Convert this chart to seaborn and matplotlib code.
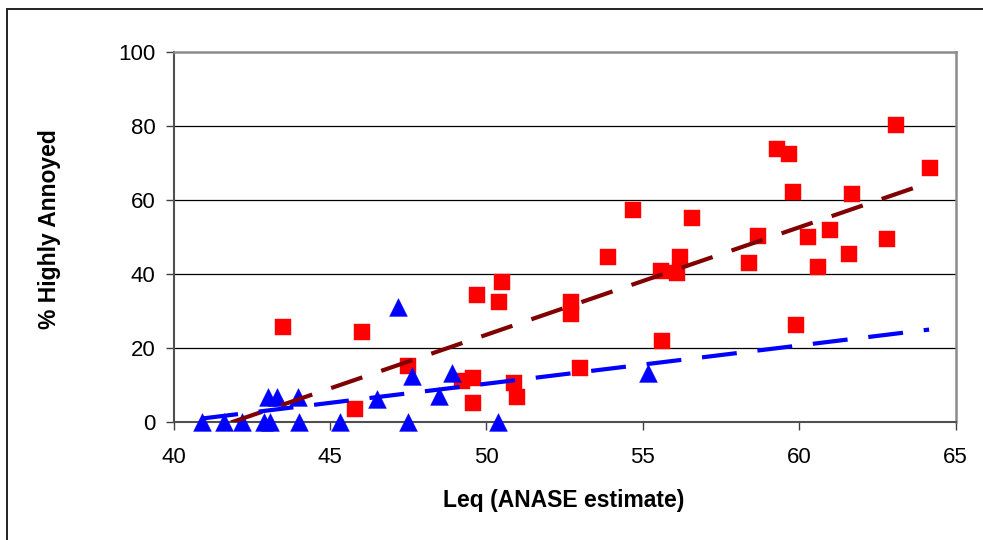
import matplotlib
matplotlib.use("Agg")
import matplotlib.pyplot as plt
import seaborn as sns
import pandas as pd
from matplotlib.patches import Rectangle

# ---- data ----
red_x = [45.81, 43.51, 46.01, 47.48, 49.21, 49.58, 49.58, 49.69, 50.39, 50.49,
         50.89, 50.99, 52.70, 52.70, 52.99, 53.90, 54.69, 55.60, 55.58, 56.09,
         56.19, 56.58, 58.38, 58.69, 59.29, 59.68, 59.79, 59.89, 60.29, 60.59,
         60.99, 61.59, 61.69, 62.79, 63.08, 64.18]
red_y = [3.4, 25.7, 24.3, 15.1, 11.1, 11.8, 5.0, 34.2, 32.4, 37.8,
         10.4, 6.7, 32.4, 29.1, 14.6, 44.4, 57.2, 21.9, 40.8, 40.2,
         44.4, 55.1, 42.8, 50.2, 73.6, 72.3, 62.2, 26.1, 50.0, 41.7,
         51.9, 45.2, 61.5, 49.3, 80.2, 68.5]

blue_x = [40.90, 41.60, 42.20, 42.90, 43.10, 44.02, 45.32, 47.48, 50.38,
          43.03, 43.30, 43.99, 47.18, 46.49, 47.61, 48.49, 48.89, 55.17]
blue_y = [0, 0, 0, 0, 0, 0, 0, 0, 0,
          6.6, 6.6, 6.6, 31.1, 6.1, 12.4, 6.9, 13.2, 13.1]

red_trend_x = [41.84, 64.15]
red_trend_y = [-0.2, 64.6]
blue_trend_x = [40.95, 64.15]
blue_trend_y = [0.9, 24.9]

x_ticks = [40, 45, 50, 55, 60, 65]
y_ticks = [0, 20, 40, 60, 80, 100]
x_label = "Leq (ANASE estimate)"
y_label = "% Highly Annoyed"

# ---- figure ----
sns.set_theme(style="white")
plt.rcParams['font.family'] = ['Liberation Sans', 'DejaVu Sans']
plt.rcParams['text.color'] = 'black'
plt.rcParams['axes.labelcolor'] = 'black'
plt.rcParams['xtick.color'] = 'black'
plt.rcParams['ytick.color'] = 'black'

W, H = 983, 540
fig = plt.figure(figsize=(W / 100, H / 100), dpi=100)
ax_l, ax_r, ax_t, ax_b = 173.5, 955.7, 51.7, 421.7
ax = fig.add_axes([ax_l / W, 1 - ax_b / H, (ax_r - ax_l) / W, (ax_b - ax_t) / H])

red_df = pd.DataFrame({"x": red_x, "y": red_y})
blue_df = pd.DataFrame({"x": blue_x, "y": blue_y})
red_tr = pd.DataFrame({"x": red_trend_x, "y": red_trend_y})
blue_tr = pd.DataFrame({"x": blue_trend_x, "y": blue_trend_y})

for yv in y_ticks[1:-1]:
    ax.axhline(yv, color="black", lw=0.9, zorder=1)

sns.scatterplot(data=red_df, x="x", y="y", ax=ax, marker="s", s=118,
                color="#FF0000", edgecolor="#FF0000", linewidth=0.3, zorder=3,
                clip_on=False)
sns.scatterplot(data=blue_df, x="x", y="y", ax=ax, marker="^", s=165,
                color="#0000FF", edgecolor="#0000FF", linewidth=0.3, zorder=4,
                clip_on=False)

sns.lineplot(data=red_tr, x="x", y="y", ax=ax, color="#800000", lw=3.0,
             linestyle=(0, (7.9, 4.8)), errorbar=None, zorder=5)
sns.lineplot(data=blue_tr, x="x", y="y", ax=ax, color="#0000FF", lw=3.0,
             linestyle=(0, (8.4, 5.0)), errorbar=None, zorder=5)

ax.set_xlim(40, 65)
ax.set_ylim(0, 100)
ax.set_xticks(x_ticks)
ax.set_yticks(y_ticks)
ax.tick_params(axis="both", which="major", direction="out", length=5.5, width=1.0,
               color="#404040", labelcolor="black", labelsize=16, bottom=True, left=True)
ax.tick_params(axis="x", pad=12.5)
ax.tick_params(axis="y", pad=7.5)

ax.set_xlabel(x_label, fontsize=16.5, fontweight="bold", color="black")
ax.set_ylabel(y_label, fontsize=16.5, fontweight="bold", color="black")
ax.xaxis.set_label_coords(((564 - ax_l) / (ax_r - ax_l)), -(501 - ax_b) / (ax_b - ax_t))
ax.xaxis.label.set_verticalalignment("center")
ax.yaxis.set_label_coords(-(ax_l - 50) / (ax_r - ax_l), (ax_b - 229) / (ax_b - ax_t))
ax.yaxis.label.set_verticalalignment("center")

for side in ["left", "bottom"]:
    ax.spines[side].set_color("#505050")
    ax.spines[side].set_linewidth(1.5)
for side in ["top", "right"]:
    ax.spines[side].set_color("#8c8c8c")
    ax.spines[side].set_linewidth(1.8)
    ax.spines[side].set_visible(True)

legend = ax.get_legend()
if legend is not None:
    legend.remove()

top_frac = 1 - 9 / H
fig.add_artist(Rectangle((7 / W, -0.2), 1.2, top_frac + 0.2,
                         transform=fig.transFigure, fill=False, edgecolor="#222222",
                         lw=1.4, clip_on=False))

fig.savefig("out.png", dpi=100)
